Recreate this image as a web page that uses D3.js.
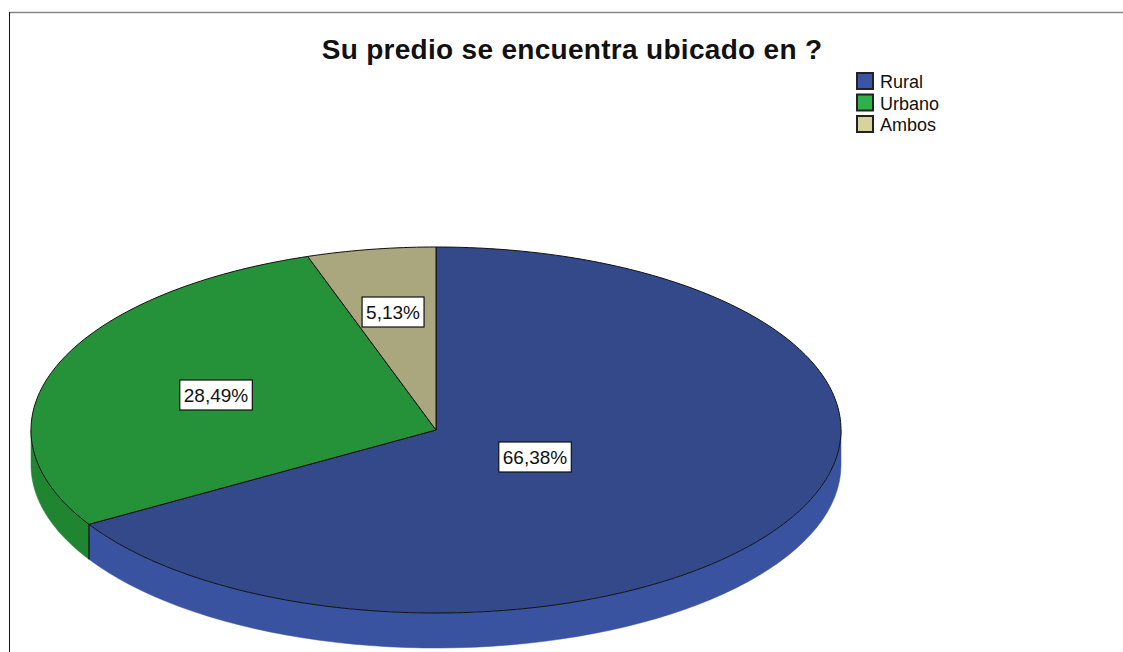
<!DOCTYPE html>
<html><head><meta charset="utf-8">
<script src="https://cdn.jsdelivr.net/npm/d3@7"></script>
<style>body{margin:0;background:#fff}svg{display:block}</style>
</head><body>
<svg id="c" width="1123" height="652"></svg>
<script>
const categories = ["Rural", "Urbano", "Ambos"];
const values = [66.38, 28.49, 5.13];
const labels = ["66,38%", "28,49%", "5,13%"];
const topColors = ["#33498a", "#25923a", "#aaa67e"];
const sideColors = ["#3a53a1", "#208530", "#9a9570"];
const legendColors = ["#3a55a8", "#2fb04a", "#d6d39c"];

const svg = d3.select("#c");
const W = 1123, H = 652;
const cx = 436, cy = 430, rx = 405, ry = 183, depth = 35;
const FONT = "Liberation Sans, Arial, sans-serif";

// frame
svg.append("line").attr("x1", 9).attr("x2", W).attr("y1", 12.5).attr("y2", 12.5).attr("stroke", "#888").attr("stroke-width", 1.5);
svg.append("line").attr("x1", 9.5).attr("x2", 9.5).attr("y1", 12).attr("y2", H).attr("stroke", "#111").attr("stroke-width", 1);

svg.append("text").attr("x", 572).attr("y", 59).attr("text-anchor", "middle")
  .attr("font-family", FONT).attr("font-weight", "bold").attr("font-size", 28).attr("letter-spacing", 0.3)
  .attr("fill", "#111").text("Su predio se encuentra ubicado en ?");

const pie = d3.pie().sort(null).value(d => d)(values);
const pt = (a, dy = 0) => [cx + rx * Math.sin(a), cy - ry * Math.cos(a) + dy];

function sidePath(a1, a2) {
  const n = 60, pts = [];
  for (let i = 0; i <= n; i++) pts.push(pt(a1 + (a2 - a1) * i / n));
  for (let i = n; i >= 0; i--) pts.push(pt(a1 + (a2 - a1) * i / n, depth));
  return d3.line()(pts) + "Z";
}
function topPath(a1, a2) {
  const n = Math.max(8, Math.ceil((a2 - a1) * 60));
  const pts = [[cx, cy]];
  for (let i = 0; i <= n; i++) pts.push(pt(a1 + (a2 - a1) * i / n));
  return d3.line()(pts) + "Z";
}

const g = svg.append("g");
pie.forEach((d, i) => {
  const a1 = Math.max(d.startAngle, Math.PI / 2), a2 = Math.min(d.endAngle, 3 * Math.PI / 2);
  if (a2 > a1) {
    g.append("path").attr("d", sidePath(a1, a2)).attr("fill", sideColors[i]).attr("stroke", sideColors[i]).attr("stroke-width", 0.5);
  }
});
pie.forEach(d => {
  const a = d.endAngle;
  if (a > Math.PI / 2 && a < 3 * Math.PI / 2) {
    const p = pt(a);
    g.append("line").attr("x1", p[0]).attr("x2", p[0]).attr("y1", p[1]).attr("y2", p[1] + depth).attr("stroke", "#111").attr("stroke-width", 1.2);
  }
});
pie.forEach((d, i) => {
  g.append("path").attr("d", topPath(d.startAngle, d.endAngle)).attr("fill", topColors[i])
    .attr("stroke", "#111").attr("stroke-width", 1).attr("stroke-linejoin", "round");
});

// labels
const labelPos = [[535, 457], [216, 395], [393, 312]];
pie.forEach((d, i) => {
  const lg = svg.append("g").attr("transform", `translate(${labelPos[i][0]},${labelPos[i][1]})`);
  const t = lg.append("text").attr("text-anchor", "middle").attr("dy", "0.36em")
    .attr("font-family", FONT).attr("font-size", 19).attr("fill", "#111").text(labels[i]);
  const bb = t.node().getBBox();
  lg.insert("rect", "text").attr("x", bb.x - 4).attr("y", -15).attr("width", bb.width + 8).attr("height", 30)
    .attr("fill", "#fff").attr("stroke", "#111").attr("stroke-width", 1.2);
});

// legend
const leg = svg.append("g").attr("transform", "translate(856,72)");
categories.forEach((c, i) => {
  const row = leg.append("g").attr("transform", `translate(0,${i * 21.5})`);
  row.append("rect").attr("x", 1).attr("y", 1).attr("width", 16).attr("height", 16)
    .attr("fill", legendColors[i]).attr("stroke", "#222").attr("stroke-width", 2);
  row.append("text").attr("x", 24).attr("y", 16).attr("font-family", FONT)
    .attr("font-size", 18).attr("fill", "#111").text(c);
});
</script>
</body></html>
